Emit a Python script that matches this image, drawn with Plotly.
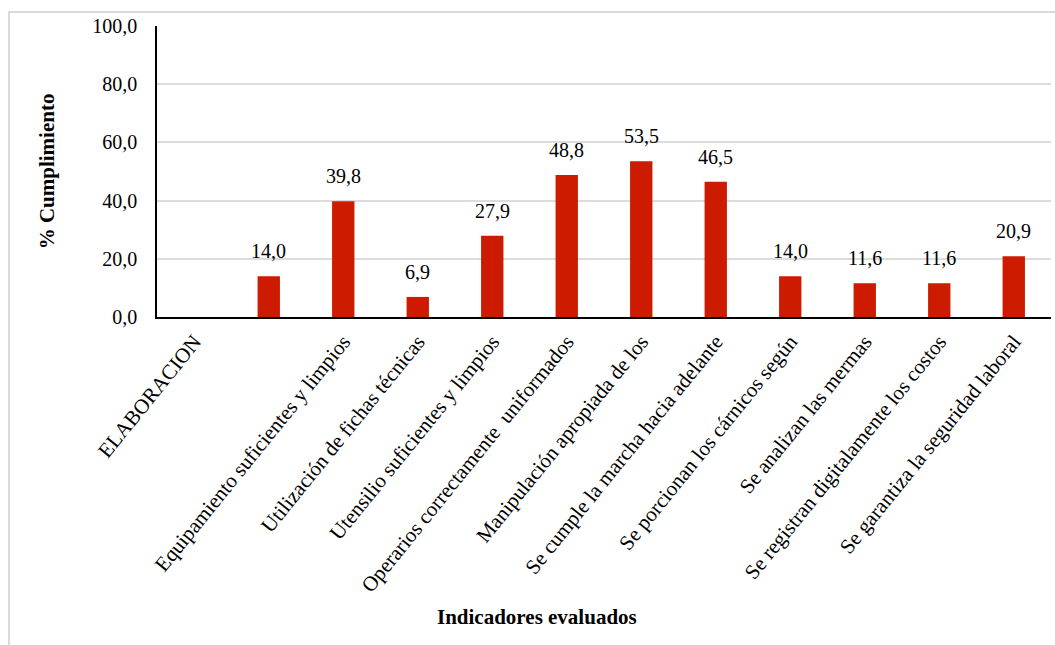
import plotly.graph_objects as go

categories = [
    "ELABORACION",
    " ",
    "Equipamiento suficientes y limpios",
    "Utilización de fichas técnicas",
    "Utensilio suficientes y limpios",
    "Operarios correctamente  uniformados",
    "Manipulación apropiada de los",
    "Se cumple la marcha hacia adelante",
    "Se porcionan los cárnicos según",
    "Se analizan las mermas",
    "Se registran digitalamente los costos",
    "Se garantiza la seguridad laboral",
]
values = [None, 14.0, 39.8, 6.9, 27.9, 48.8, 53.5, 46.5, 14.0, 11.6, 11.6, 20.9]
labels = ["" if v is None else f"{v:.1f}".replace(".", ",") for v in values]
y_ticks = [0, 20, 40, 60, 80, 100]

FONT = "Liberation Serif"
L, R, T, B = 157, 4, 26, 328
W, H = 1055, 645
pw, ph = W - L - R, H - T - B

def px(x):
    return (x - L) / pw

def py(y):
    return (H - B - y) / ph

fig = go.Figure()
fig.add_trace(go.Bar(
    x=categories, y=values,
    marker=dict(color="#CD1B00", line=dict(width=0)),
    cliponaxis=False,
    width=0.3,
))

annotations = [dict(
    text="<b>Indicadores evaluados</b>", xref="paper", yref="paper",
    x=px(537), y=py(617), xanchor="center", yanchor="middle",
    showarrow=False, font=dict(family=FONT, size=21, color="black"),
)]
for c, v, t in zip(categories, values, labels):
    if v is None:
        continue
    annotations.append(dict(
        x=c, y=v, xref="x", yref="y", text=t, showarrow=False,
        yanchor="bottom", xanchor="center", yshift=12,
        font=dict(family=FONT, size=20, color="black"),
    ))

fig.update_layout(
    width=W, height=H,
    margin=dict(l=L, r=R, t=T, b=B),
    paper_bgcolor="white", plot_bgcolor="white",
    separators=",.",
    showlegend=False,
    font=dict(family=FONT, size=20, color="black"),
    xaxis=dict(
        type="category",
        tickangle=-51,
        tickfont=dict(family=FONT, size=21, color="black"),
        showline=True, linecolor="black", linewidth=2,
        showgrid=False, ticks="", ticklabelstandoff=2,
    ),
    yaxis=dict(
        range=[0, 100],
        tickvals=y_ticks,
        tickformat=".1f",
        tickfont=dict(family=FONT, size=20, color="black"),
        showline=True, linecolor="black", linewidth=1.5,
        showgrid=True, gridcolor="#dcdcdc", gridwidth=2,
        zeroline=False, ticks="", ticklabelstandoff=14,
        title=dict(text="<b>% Cumplimiento</b>", font=dict(family=FONT, size=21, color="black"), standoff=32),
    ),
    shapes=[dict(
        type="rect", xref="paper", yref="paper",
        x0=px(9), x1=px(1070), y0=py(660), y1=py(12),
        line=dict(color="#dadada", width=2), fillcolor="rgba(0,0,0,0)",
        layer="below",
    )],
    annotations=annotations,
)

fig.write_html("out.html")
